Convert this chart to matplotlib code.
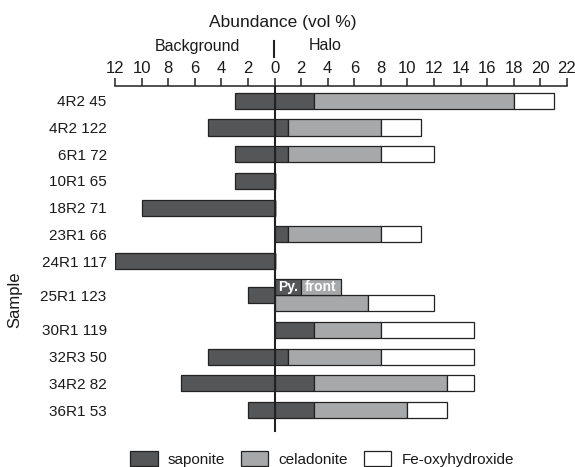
import matplotlib
matplotlib.use('Agg')
import matplotlib.pyplot as plt
import matplotlib.patches as mpatches
from matplotlib.lines import Line2D
import numpy as np

plt.rcParams['font.family'] = ['Liberation Sans', 'DejaVu Sans']

# data (vol %)
samples = ['4R2 45', '4R2 122', '6R1 72', '10R1 65', '18R2 71', '23R1 66',
           '24R1 117', '25R1 123', '30R1 119', '32R3 50', '34R2 82', '36R1 53']
bg_saponite = [3, 5, 3, 3, 10, 0, 12, 2, 0, 5, 7, 2]
halo_saponite = [3, 1, 1, 0, 0, 1, 0, 0, 3, 1, 3, 3]
halo_celadonite = [15, 7, 7, 0, 0, 7, 0, 7, 5, 7, 10, 7]
halo_feoxy = [3, 3, 4, 0, 0, 3, 0, 5, 7, 7, 2, 3]
# pyrite front of 25R1 123
pyfront_saponite = 2
pyfront_celadonite = 3
tick_vals = list(range(-12, 23, 2))

# layout (row positions, 25R1 123 is split into two bars)
bg_pos = [0, 1, 2, 3, 4, 5, 6, 7.28, 8.58, 9.58, 10.58, 11.58]
halo_pos = [0, 1, 2, 3, 4, 5, 6, 7.57, 8.58, 9.58, 10.58, 11.58]
py_pos = 6.97

C_SAP = '#555657'
C_CEL = '#a7a8aa'
C_FE = '#ffffff'
EDGE = '#222222'
TXT = '#1a1a1a'
H = 0.6

fig = plt.figure(figsize=(5.75, 4.67), dpi=100)
ax = fig.add_axes([115/575, 1-440/467, (567-115)/575, (440-86)/467])

bg = -np.array(bg_saponite)
hs = np.array(halo_saponite)
hc = np.array(halo_celadonite)
hf = np.array(halo_feoxy)
kw = dict(height=H, edgecolor=EDGE, linewidth=0.9)
ax.barh(bg_pos, bg, color=C_SAP, **kw)
ax.barh(halo_pos, hs, color=C_SAP, **kw)
ax.barh(halo_pos, hc, left=hs, color=C_CEL, **kw)
ax.barh(halo_pos, hf, left=hs + hc, color=C_FE, **kw)

# Py. front box
ax.barh(py_pos, pyfront_saponite, color=C_SAP, **kw)
ax.barh(py_pos, pyfront_celadonite, left=pyfront_saponite, color=C_CEL, **kw)
ax.text(pyfront_saponite / 2, py_pos, 'Py.', color='white', fontweight='bold',
        fontsize=10, ha='center', va='center')
ax.text(pyfront_saponite + pyfront_celadonite / 2, py_pos, 'front', color='white',
        fontweight='bold', fontsize=10, ha='center', va='center')

ax.set_xlim(-12, 22)
ax.set_ylim(12.7, -0.554)

# zero line
ax.plot([0, 0], [-0.554, 12.36], color=EDGE, lw=1.5, clip_on=False, zorder=5)

# top axis
ax.xaxis.tick_top()
ax.set_xticks(tick_vals)
ax.set_xticklabels([str(abs(v)) for v in tick_vals], fontsize=12, color=TXT)
ax.tick_params(axis='x', direction='out', length=6, width=1.1, pad=1.5, color=EDGE)
for s in ['left', 'right', 'bottom']:
    ax.spines[s].set_visible(False)
ax.spines['top'].set_linewidth(1.1)
ax.spines['top'].set_color(EDGE)

ax.set_yticks(bg_pos)
ax.set_yticklabels(samples, fontsize=11, color=TXT)
ax.tick_params(axis='y', length=0, pad=6)

fig.text(15/575, 1-300/467, 'Sample', rotation=90, ha='center', va='center',
         fontsize=12, color=TXT)
fig.text(283/575, 1-22/467, 'Abundance (vol %)', ha='center', va='center',
         fontsize=12.5, color=TXT)
fig.text(197/575, 1-46/467, 'Background', ha='center', va='center', fontsize=11.5, color=TXT)
fig.text(325/575, 1-46/467, 'Halo', ha='center', va='center', fontsize=11.5, color=TXT)
fig.add_artist(Line2D([274/575, 274/575], [1-41/467, 1-57/467], color=EDGE, lw=1.5))

handles = [mpatches.Patch(facecolor=c, edgecolor=EDGE, linewidth=0.9)
           for c in (C_SAP, C_CEL, C_FE)]
leg = fig.legend(handles, ['saponite', 'celadonite', 'Fe-oxyhydroxide'], loc='center',
                 bbox_to_anchor=(322/575, 1-459/467), ncol=3, frameon=False, fontsize=11,
                 handlelength=1.8, handleheight=1.1, handletextpad=0.65, columnspacing=1.05,
                 borderaxespad=0, borderpad=0)
for t in leg.get_texts():
    t.set_color(TXT)

fig.savefig('out.png', dpi=100)
